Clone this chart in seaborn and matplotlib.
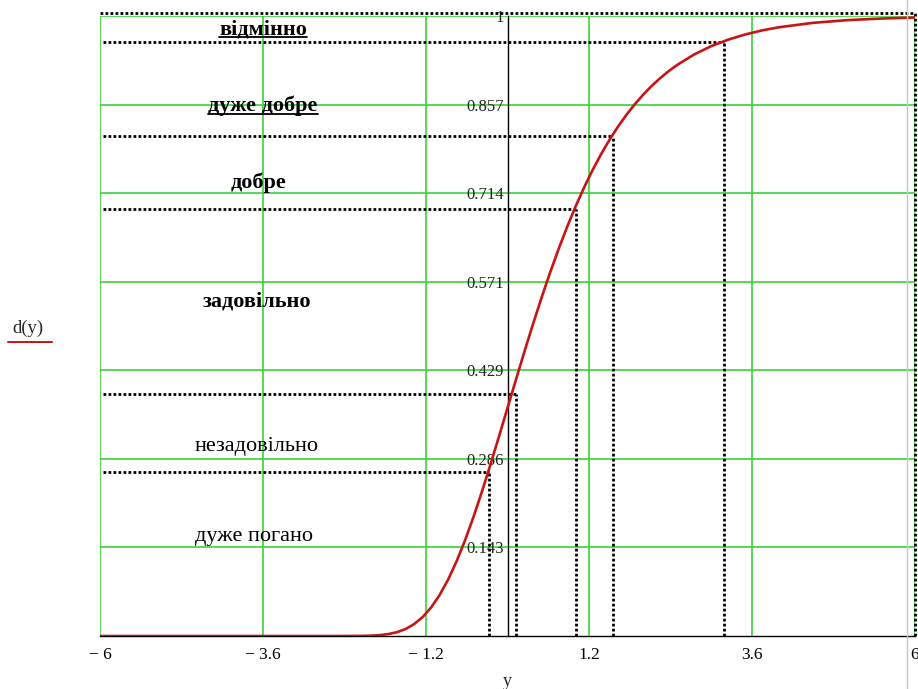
import matplotlib
matplotlib.use("Agg")
import matplotlib.pyplot as plt
import seaborn as sns
import pandas as pd
from matplotlib.lines import Line2D

# curve d(y), values
y_vals = [-6, -3, -2.5, -2.25, -2.125, -2, -1.875, -1.75, -1.625, -1.5, -1.375,
          -1.25, -1.125, -1, -0.875, -0.75, -0.625, -0.5, -0.375, -0.25, -0.125,
          0, 0.125, 0.25, 0.375, 0.5, 0.625, 0.75, 0.875, 1, 1.125, 1.25, 1.375,
          1.5, 1.625, 1.75, 1.875, 2, 2.125, 2.25, 2.375, 2.5, 2.75, 3, 3.25,
          3.5, 3.75, 4, 4.5, 5, 5.5, 6]
d_vals = [0, 0, 0.00001, 0.0001, 0.00023, 0.0006, 0.00147, 0.0032, 0.00623,
          0.0113, 0.0192, 0.0305, 0.046, 0.066, 0.0908, 0.1204, 0.1544, 0.1923,
          0.2334, 0.2769, 0.322, 0.3679, 0.4137, 0.459, 0.5029, 0.5452, 0.5855,
          0.6235, 0.6591, 0.6922, 0.7228, 0.7509, 0.7766, 0.8, 0.8213, 0.8405,
          0.8578, 0.8734, 0.8874, 0.9, 0.9112, 0.9212, 0.9381, 0.9514, 0.9619,
          0.9702, 0.9768, 0.9819, 0.989, 0.9933, 0.9959, 0.9975]

# dotted threshold guides (y, d)
guide_y = [-0.27, 0.125, 1.01, 1.55, 3.19]
guide_d = [0.264, 0.391, 0.689, 0.807, 0.958]
top_d = 1.005

x_ticks = [-6, -3.6, -1.2, 1.2, 3.6, 6]
x_labels = ["\u2212 6", "\u2212 3.6", "\u2212 1.2", "1.2", "3.6", "6"]
y_ticks = [0.143, 0.286, 0.429, 0.571, 0.714, 0.857, 1.0]
y_labels = ["0.143", "0.286", "0.429", "0.571", "0.714", "0.857", "1"]

categories = ["відмінно", "дуже добре", "добре", "задовільно", "незадовільно", "дуже погано"]
cat_bold = [True, True, True, True, False, False]
cat_underline = [True, True, False, False, False, False]
cat_pos = [(-3.6, 0.979), (-3.6, 0.855), (-3.67, 0.731), (-3.69, 0.539),
           (-3.69, 0.305), (-3.73, 0.160)]

sns.set_style("white")
plt.rcParams["font.family"] = ["Liberation Serif", "DejaVu Serif"]

fig = plt.figure(figsize=(9.18, 6.89), dpi=100)
ax = fig.add_axes([100 / 918, 53 / 689, 815 / 918, 620 / 689])

green = "#3ad23a"
red = "#c81414"

# spine move first: it resets the ticks
for s in ["top", "right"]:
    ax.spines[s].set_visible(False)
ax.spines["left"].set_position(("data", 0))
ax.spines["left"].set_color("black")
ax.spines["bottom"].set_color("black")
ax.spines["left"].set_linewidth(1.0)
ax.spines["bottom"].set_linewidth(1.0)

ax.set_xlim(-6, 6)
ax.set_ylim(0, 1.0)
ax.set_xticks(x_ticks)
ax.set_xticklabels(x_labels)
ax.set_yticks(y_ticks)
ax.set_yticklabels(y_labels)
ax.grid(True, color=green, linewidth=1.2)
ax.set_axisbelow(True)
ax.tick_params(axis="y", direction="inout", length=7, width=1, pad=-1, color="black",
               labelsize=12, labelcolor="#222222")
ax.tick_params(axis="x", direction="out", length=5, width=1, pad=3, color="black",
               labelsize=12.5, labelcolor="black")

dot = (0, (1, 0.8))
for gy, gd in zip(guide_y, guide_d):
    ax.plot([-5.95, gy], [gd, gd], color="black", linestyle=dot, linewidth=2.0, zorder=3)
    ax.plot([gy, gy], [0, gd], color="black", linestyle=dot, linewidth=2.0, zorder=3)
ax.plot([-6, 6], [top_d, top_d], color="black", linestyle=dot, linewidth=2.0,
        zorder=3, clip_on=False)
ax.plot([6, 6], [0, top_d], color="black", linestyle=dot, linewidth=2.0,
        zorder=3, clip_on=False)

df = pd.DataFrame({"y": y_vals, "d": d_vals})
sns.lineplot(data=df, x="y", y="d", ax=ax, color=red, linewidth=1.9, zorder=4)
ax.set_xlabel("")
ax.set_ylabel("")

texts = []
for name, b, (px, py) in zip(categories, cat_bold, cat_pos):
    t = ax.text(px, py, name, fontsize=16, ha="center", va="center",
                fontweight="bold" if b else "normal", color="black", zorder=5)
    texts.append(t)

fig.text(507 / 918, 1 - 681 / 689, "y", fontsize=13, ha="center", va="center")
fig.text(28 / 918, 1 - 328 / 689, "d(y)", fontsize=13.5, ha="center", va="center")
fig.add_artist(Line2D([8 / 918, 52 / 918], [1 - 342 / 689, 1 - 342 / 689],
                      color=red, linewidth=1.4))
fig.add_artist(Line2D([907 / 918, 907 / 918], [0, 1], color="#c8c8c8", linewidth=1))

fig.canvas.draw()
for t, u in zip(texts, cat_underline):
    if u:
        bb = t.get_window_extent().transformed(fig.transFigure.inverted())
        yy = bb.y0 + 0.003
        fig.add_artist(Line2D([bb.x0, bb.x1], [yy, yy], color="black", linewidth=1.3))

fig.savefig("out.png", dpi=100)
